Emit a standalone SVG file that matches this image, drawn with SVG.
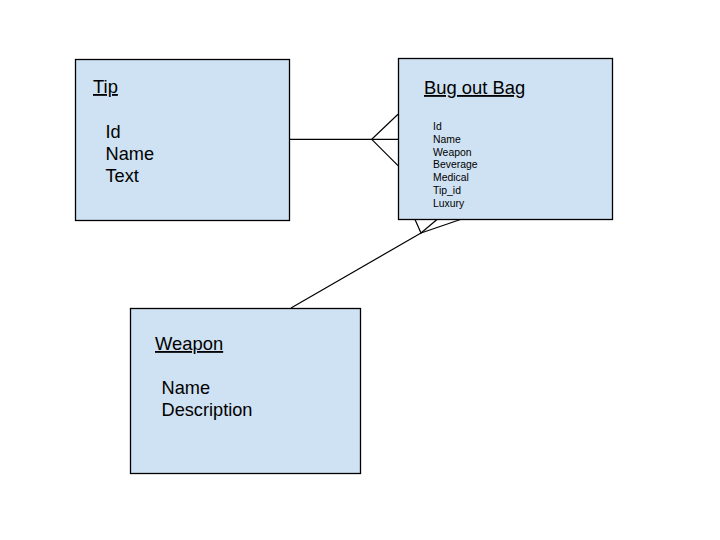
<svg xmlns="http://www.w3.org/2000/svg" width="720" height="540" viewBox="0 0 720 540">
<style>
.box{fill:#cfe2f3;stroke:#000;stroke-width:1.3}
.t{font-family:"Liberation Sans",Arial,sans-serif;fill:#000}
.title{font-size:18.4px;text-decoration:underline}
.f{font-size:18.2px}
.s{font-size:10.4px}
.c{fill:none;stroke:#000;stroke-width:1.2}
</style>
<rect width="720" height="540" fill="#fff"/>
<g id="connectors">
<path class="c" d="M290 139.3H398"/>
<path class="c" d="M398 114.3L371.7 139.3L398 165.7"/>
<path class="c" d="M291 308L421 233"/>
<path class="c" d="M415 219.5L421 233L437 219.5"/>
<path class="c" d="M421 233L460.5 219.5"/>
</g>
<g id="tip">
<rect class="box" x="75.5" y="59.5" width="214" height="161"/>
<text class="t title" x="93" y="93">Tip</text>
<text class="t f" x="105.5" y="137.5">Id</text>
<text class="t f" x="105.5" y="159.5">Name</text>
<text class="t f" x="105.5" y="181.5">Text</text>
</g>
<g id="bugoutbag">
<rect class="box" x="398.5" y="58.5" width="214" height="161"/>
<text class="t title" x="424" y="94">Bug out Bag</text>
<text class="t s" x="433" y="130">Id</text>
<text class="t s" x="433" y="142.8">Name</text>
<text class="t s" x="433" y="155.6">Weapon</text>
<text class="t s" x="433" y="168.4">Beverage</text>
<text class="t s" x="433" y="181.2">Medical</text>
<text class="t s" x="433" y="194">Tip_id</text>
<text class="t s" x="433" y="206.8">Luxury</text>
</g>
<g id="weapon">
<rect class="box" x="130.5" y="308.5" width="230" height="165"/>
<text class="t title" x="155" y="350">Weapon</text>
<text class="t f" x="161.5" y="393.5">Name</text>
<text class="t f" x="161.5" y="415.5">Description</text>
</g>
</svg>
